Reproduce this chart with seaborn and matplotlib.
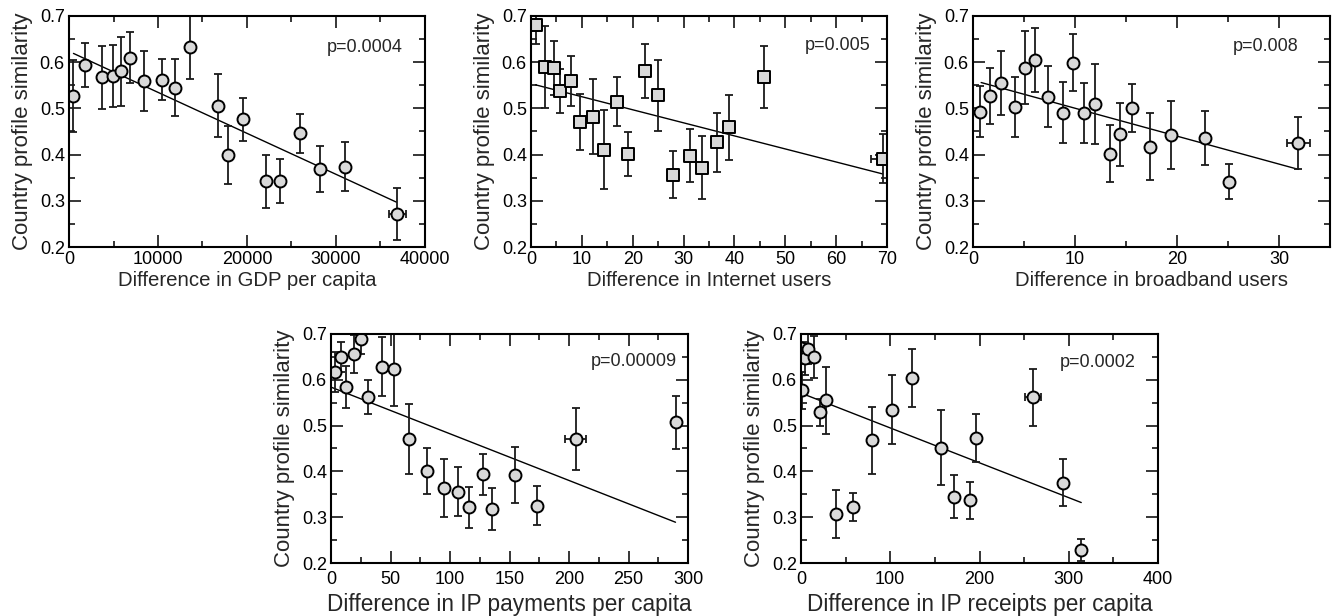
import matplotlib
matplotlib.use("Agg")
import matplotlib.pyplot as plt
import seaborn as sns
import numpy as np
from matplotlib.ticker import MultipleLocator

# ---------------- data ----------------
y_label = "Country profile similarity"

gdp_x = [500, 1800, 3700, 4900, 5850, 6850, 8450, 10450, 11950, 13650, 16750, 17900,
         19500, 22100, 23700, 26000, 28200, 31000, 36900]
gdp_y = [0.526, 0.594, 0.567, 0.570, 0.580, 0.610, 0.560, 0.562, 0.545, 0.632, 0.506,
         0.399, 0.476, 0.342, 0.343, 0.446, 0.369, 0.374, 0.271]
gdp_yerr = [0.078, 0.047, 0.068, 0.067, 0.075, 0.056, 0.065, 0.044, 0.061, 0.068, 0.068,
            0.063, 0.046, 0.057, 0.048, 0.042, 0.049, 0.053, 0.056]
gdp_xerr = [0] * 18 + [1000]
gdp_fit_x = [500, 36800]
gdp_fit_y = [0.619, 0.297]

net_x = [0.9, 2.7, 4.5, 5.8, 7.9, 9.7, 12.2, 14.4, 17.0, 19.1, 22.4, 25.0, 28.0, 31.3,
         33.7, 36.6, 38.9, 45.8, 69.2]
net_y = [0.680, 0.589, 0.587, 0.538, 0.560, 0.471, 0.482, 0.411, 0.514, 0.401, 0.581,
         0.528, 0.356, 0.398, 0.372, 0.427, 0.459, 0.568, 0.391]
net_yerr = [0.040, 0.089, 0.058, 0.048, 0.054, 0.061, 0.081, 0.085, 0.053, 0.048, 0.058,
            0.076, 0.051, 0.058, 0.068, 0.064, 0.070, 0.068, 0.053]
net_xerr = [0] * 17 + [1.0, 2.3]
net_fit_x = [0.9, 69.2]
net_fit_y = [0.551, 0.358]

bb_x = [0.7, 1.7, 2.7, 4.1, 5.1, 6.1, 7.4, 8.8, 9.8, 10.9, 12.0, 13.4, 14.4, 15.6, 17.4,
        19.4, 22.7, 25.1, 31.9]
bb_y = [0.493, 0.527, 0.555, 0.503, 0.588, 0.604, 0.525, 0.491, 0.599, 0.490, 0.509,
        0.402, 0.444, 0.501, 0.417, 0.443, 0.436, 0.341, 0.425]
bb_yerr = [0.055, 0.060, 0.069, 0.064, 0.079, 0.069, 0.066, 0.066, 0.062, 0.064, 0.087,
           0.062, 0.068, 0.052, 0.072, 0.074, 0.059, 0.038, 0.056]
bb_xerr = [0] * 18 + [1.1]
bb_fit_x = [0.8, 31.9]
bb_fit_y = [0.556, 0.368]

pay_x = [3, 8, 13, 19, 25, 31.5, 42.5, 53, 65.5, 80.5, 95, 107, 116, 127.5, 135, 155,
         173, 205.5, 289.5]
pay_y = [0.617, 0.649, 0.584, 0.656, 0.688, 0.562, 0.629, 0.624, 0.471, 0.401, 0.364,
         0.356, 0.322, 0.394, 0.317, 0.393, 0.325, 0.471, 0.507]
pay_yerr = [0.044, 0.033, 0.046, 0.041, 0.031, 0.037, 0.065, 0.082, 0.076, 0.050, 0.063,
            0.053, 0.045, 0.045, 0.046, 0.061, 0.043, 0.067, 0.058]
pay_xerr = [0] * 17 + [8.8, 0]
pay_fit_x = [0, 289.5]
pay_fit_y = [0.584, 0.289]

rec_x = [1.5, 0.5, 4.8, 7.8, 14.1, 21, 28, 39, 58, 79, 102, 124, 157, 171, 189, 196,
         260, 293, 314]
rec_y = [0.577, 0.669, 0.647, 0.667, 0.649, 0.529, 0.555, 0.307, 0.322, 0.468, 0.535,
         0.604, 0.452, 0.345, 0.337, 0.473, 0.562, 0.375, 0.229]
rec_yerr = [0.040, 0.035, 0.036, 0.033, 0.046, 0.030, 0.074, 0.052, 0.030, 0.073, 0.076,
            0.064, 0.081, 0.047, 0.040, 0.052, 0.062, 0.051, 0.024]
rec_xerr = [0] * 16 + [8.6, 0, 0]
rec_fit_x = [0, 314]
rec_fit_y = [0.571, 0.332]

x_labels = ["Difference in GDP per capita", "Difference in Internet users",
            "Difference in broadband users", "Difference in IP payments per capita",
            "Difference in IP receipts per capita"]
p_texts = ["p=0.0004", "p=0.005", "p=0.008", "p=0.00009", "p=0.0002"]

# ---------------- style ----------------
sns.set_theme(style="ticks")
plt.rcParams['font.family'] = ['Liberation Sans', 'DejaVu Sans']
plt.rcParams.update({
    "xtick.direction": "in", "ytick.direction": "in",
    "xtick.top": True, "ytick.right": True,
    "xtick.major.size": 8.5, "ytick.major.size": 8.5,
    "xtick.minor.size": 4.3, "ytick.minor.size": 4.3,
    "xtick.major.width": 1.1, "ytick.major.width": 1.1,
    "xtick.minor.width": 1.1, "ytick.minor.width": 1.1,
    "ytick.major.pad": 3,
    "axes.linewidth": 1.5, "axes.edgecolor": "black",
    "xtick.color": "black", "ytick.color": "black",
    "xtick.labelsize": 13, "ytick.labelsize": 13,
})

W, H = 1334, 616
fig = plt.figure(figsize=(W / 100, H / 100), dpi=100)


def rect(l, t, r, b):
    return [l / W, 1 - b / H, (r - l) / W, (b - t) / H]


panels = [
    dict(x=gdp_x, y=gdp_y, yerr=gdp_yerr, xerr=gdp_xerr, fx=gdp_fit_x, fy=gdp_fit_y,
         marker="o", rect=rect(69, 16, 425, 247), xlim=40000, major=10000, minor=5000,
         ptxt=(0.938, 0.862), xls=14.7, xpad=3, lpad=2),
    dict(x=net_x, y=net_y, yerr=net_yerr, xerr=net_xerr, fx=net_fit_x, fy=net_fit_y,
         marker="s", rect=rect(531, 16, 887, 247), xlim=70, major=10, minor=5,
         ptxt=(0.954, 0.874), xls=14.7, xpad=3, lpad=2),
    dict(x=bb_x, y=bb_y, yerr=bb_yerr, xerr=bb_xerr, fx=bb_fit_x, fy=bb_fit_y,
         marker="o", rect=rect(973, 16, 1330, 247), xlim=35, major=10, minor=5,
         ptxt=(0.913, 0.870), xls=14.7, xpad=3, lpad=2),
    dict(x=pay_x, y=pay_y, yerr=pay_yerr, xerr=pay_xerr, fx=pay_fit_x, fy=pay_fit_y,
         marker="o", rect=rect(331, 334, 688, 563), xlim=300, major=50, minor=25,
         ptxt=(0.969, 0.879), xls=16.3, xpad=5.5, lpad=4),
    dict(x=rec_x, y=rec_y, yerr=rec_yerr, xerr=rec_xerr, fx=rec_fit_x, fy=rec_fit_y,
         marker="o", rect=rect(801, 334, 1158, 563), xlim=400, major=100, minor=50,
         ptxt=(0.938, 0.874), xls=16.3, xpad=5.5, lpad=4),
]

for i, p in enumerate(panels):
    ax = fig.add_axes(p["rect"])
    sns.lineplot(x=p["fx"], y=p["fy"], ax=ax, color="black", linewidth=1.0, zorder=1)
    xerr = np.array(p["xerr"], dtype=float)
    ax.errorbar(p["x"], p["y"], yerr=p["yerr"], xerr=np.where(xerr > 0, xerr, np.nan),
                fmt="none", ecolor="#1a1a1a", elinewidth=1.3, capsize=3.0,
                capthick=1.3, zorder=2)
    ms = 74 if p["marker"] == "o" else 64
    sns.scatterplot(x=p["x"], y=p["y"], ax=ax, marker=p["marker"], s=ms,
                    color="#d9d9d9", edgecolor="black", linewidth=1.4, zorder=3)
    ax.set_xlim(0, p["xlim"])
    ax.set_ylim(0.2, 0.7)
    ax.xaxis.set_major_locator(MultipleLocator(p["major"]))
    ax.xaxis.set_minor_locator(MultipleLocator(p["minor"]))
    ax.yaxis.set_major_locator(MultipleLocator(0.1))
    ax.yaxis.set_minor_locator(MultipleLocator(0.05))
    ax.tick_params(which="both", top=True, right=True, direction="in")
    ax.tick_params(axis="x", which="major", pad=p["xpad"])
    ax.set_xlabel(x_labels[i], labelpad=p["lpad"], fontsize=p["xls"])
    ax.set_ylabel(y_label, labelpad=4.5, fontsize=16)
    for s in ax.spines.values():
        s.set_visible(True)
        s.set_linewidth(1.5)
        s.set_zorder(5)
    ax.text(p["ptxt"][0], p["ptxt"][1], p_texts[i], transform=ax.transAxes,
            ha="right", va="center", fontsize=13)

fig.savefig("out.png", dpi=100)
